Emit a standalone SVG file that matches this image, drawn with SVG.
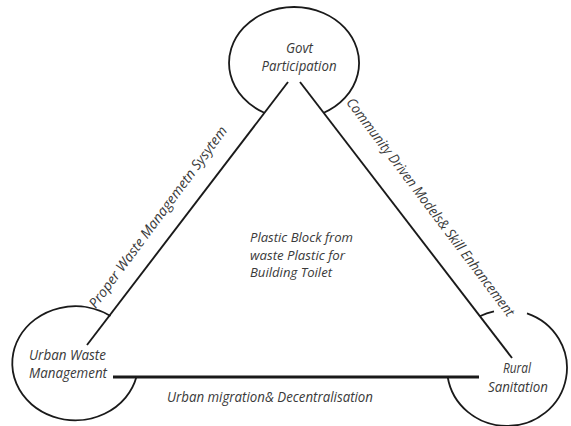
<svg xmlns="http://www.w3.org/2000/svg" width="571" height="426" viewBox="0 0 571 426">
  <style>
    .bg { fill: #ffffff; }
    .ring { fill: none; stroke: #1a1a1a; stroke-width: 1.8; }
    .edge { fill: none; stroke: #1a1a1a; stroke-width: 1.9; stroke-linecap: butt; }
    .edge-base { fill: none; stroke: #1a1a1a; stroke-width: 3; }
    .lbl { font-family: "Open Sans", Lato, "Liberation Sans", sans-serif; font-style: italic; font-size: 14px; fill: #3a3a3a; }
    .tight { font-size: 13.5px; }
    .mid { text-anchor: middle; }
  </style>
  <rect class="bg" x="0" y="0" width="571" height="426"/>

  <!-- triangle sides and their labels -->
  <g id="connectors">
    <line class="edge" x1="288" y1="82" x2="87" y2="345"/>
    <line class="edge" x1="300" y1="82" x2="512" y2="358"/>
    <line class="edge-base" x1="113" y1="377" x2="479" y2="377"/>
    <text class="lbl mid" transform="translate(161.7 220) rotate(-53.5)" textLength="222" lengthAdjust="spacingAndGlyphs">Proper Waste Managemetn Sysytem</text>
    <text class="lbl mid" transform="translate(426.7 210) rotate(53)" textLength="269" lengthAdjust="spacingAndGlyphs">Community Driven Models&amp; Skill Enhancement</text>
    <text class="lbl" x="167" y="402" textLength="206" lengthAdjust="spacingAndGlyphs">Urban migration&amp; Decentralisation</text>
  </g>

  <!-- top corner -->
  <g id="govt">
    <path class="ring" d="M 264.3 112.8 A 65 56 0 1 1 323.8 112.8"/>
    <text class="lbl mid" x="299.5" y="53" textLength="27" lengthAdjust="spacingAndGlyphs">Govt</text>
    <text class="lbl mid" x="299" y="71" textLength="75" lengthAdjust="spacingAndGlyphs">Participation</text>
  </g>

  <!-- bottom-left corner -->
  <g id="urban">
    <path class="ring" d="M 110.5 316 A 63 57 0 1 0 136.4 377"/>
    <text class="lbl" x="29" y="360" textLength="77" lengthAdjust="spacingAndGlyphs">Urban Waste</text>
    <text class="lbl" x="29" y="378" textLength="78" lengthAdjust="spacingAndGlyphs">Management</text>
  </g>

  <!-- bottom-right corner -->
  <g id="rural">
    <path class="ring" d="M 479.8 316.2 A 60 58 0 0 1 494 311.4"/>
    <path class="ring" d="M 527 313.3 A 60 58 0 1 1 447.7 377"/>
    <text class="lbl mid" x="517" y="373" textLength="28" lengthAdjust="spacingAndGlyphs">Rural</text>
    <text class="lbl mid" x="518" y="392" textLength="60" lengthAdjust="spacingAndGlyphs">Sanitation</text>
  </g>

  <!-- centre of the triangle -->
  <g id="centre">
    <text class="lbl tight" x="250" y="242" textLength="103" lengthAdjust="spacingAndGlyphs">Plastic Block from</text>
    <text class="lbl tight" x="250" y="259.5" textLength="95" lengthAdjust="spacingAndGlyphs">waste Plastic for</text>
    <text class="lbl tight" x="250" y="277" textLength="82" lengthAdjust="spacingAndGlyphs">Building Toilet</text>
  </g>
</svg>
